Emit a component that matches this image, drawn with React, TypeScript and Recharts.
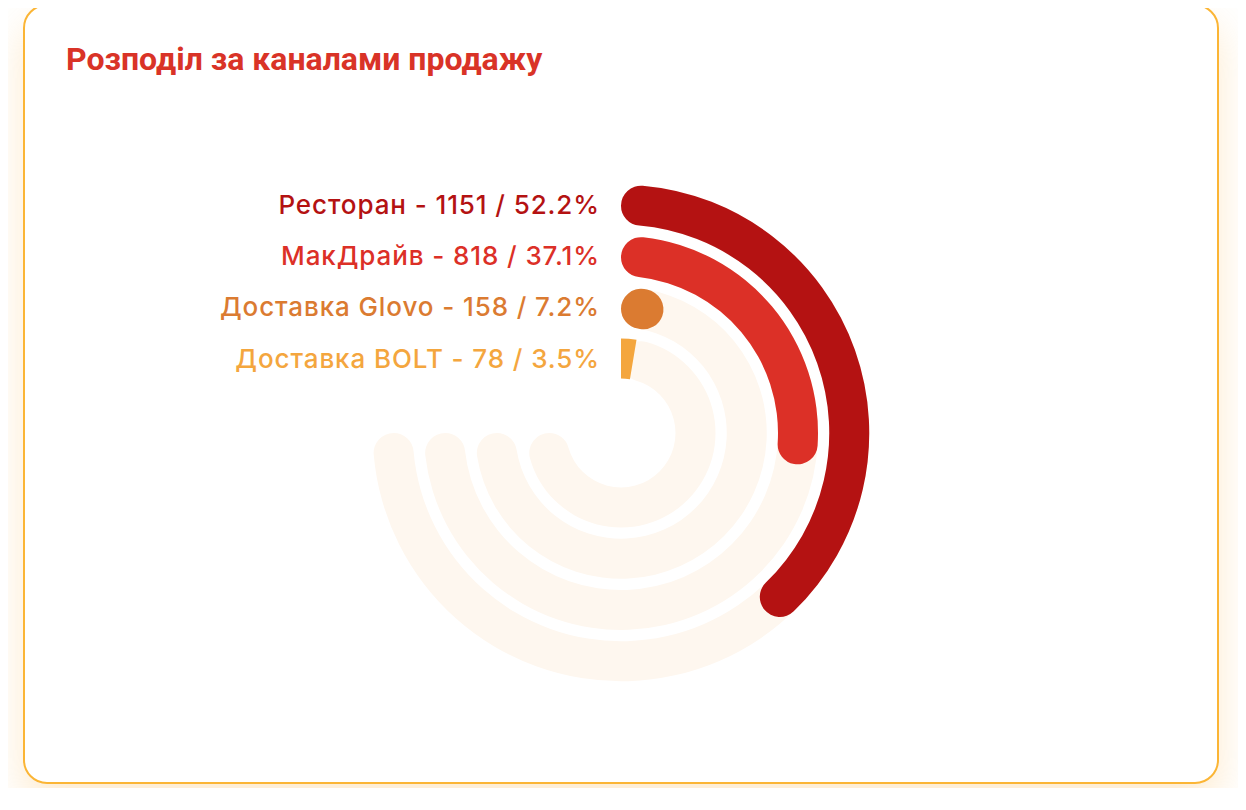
import { RadialBarChart, RadialBar, PolarAngleAxis, Cell, LabelList } from "recharts"

// channels from inner ring to outer ring
const channels = ["Доставка BOLT", "Доставка Glovo", "МакДрайв", "Ресторан"]
const orders = [78, 158, 818, 1151]
const shares = [3.5, 7.2, 37.1, 52.2]
const colors = ["#f4a63e", "#db7b31", "#dc3027", "#b41212"]

const data = channels.map((name, i) => ({ name, orders: orders[i], share: shares[i] }))

const ChannelLabel = (props: any) => {
    const { viewBox, index } = props
    if (!viewBox) return null
    const mid = (viewBox.innerRadius + viewBox.outerRadius) / 2
    return (
        <text
            x={viewBox.cx - 21}
            y={viewBox.cy - mid + 9}
            textAnchor="end"
            fill={colors[index]}
            fontSize={26}
            fontWeight={500}
            letterSpacing={0.9}
            fontFamily="Inter, sans-serif"
        >
            {`${channels[index]} - ${orders[index]} / ${shares[index]}%`}
        </text>
    )
}

export default function App() {
    return (
        <div style={{ position: "relative", left: 15, top: -4, width: 1196, height: 780 }}>
            <div
                style={{
                    position: "absolute",
                    inset: 0,
                    boxSizing: "border-box",
                    border: "2px solid #fbb535",
                    borderRadius: 24,
                    background: "#fff",
                    boxShadow: "0 20px 40px rgba(251, 176, 59, 0.25)",
                }}
            />
            <div
                style={{
                    position: "absolute",
                    left: 43,
                    top: 35,
                    fontFamily: "Roboto, sans-serif",
                    fontWeight: 700,
                    fontSize: 32,
                    color: "#d93327",
                    lineHeight: "40px",
                }}
            >
                Розподіл за каналами продажу
            </div>
            <div style={{ position: "absolute", left: 0, top: 0 }}>
                <RadialBarChart
                    width={1196}
                    height={780}
                    cx={598}
                    cy={429}
                    innerRadius={48.5}
                    outerRadius={253.5}
                    startAngle={90}
                    endAngle={-180}
                    data={data}
                >
                    <PolarAngleAxis type="number" domain={[0, 100]} tick={false} axisLine={false} />
                    <RadialBar
                        dataKey="share"
                        barSize={40}
                        cornerRadius={20}
                        background={{ fill: "#fef7ef" }}
                        isAnimationActive={false}
                    >
                        {data.map((d, i) => (
                            <Cell key={d.name} fill={colors[i]} />
                        ))}
                        <LabelList dataKey="name" content={ChannelLabel} />
                    </RadialBar>
                </RadialBarChart>
            </div>
        </div>
    )
}
